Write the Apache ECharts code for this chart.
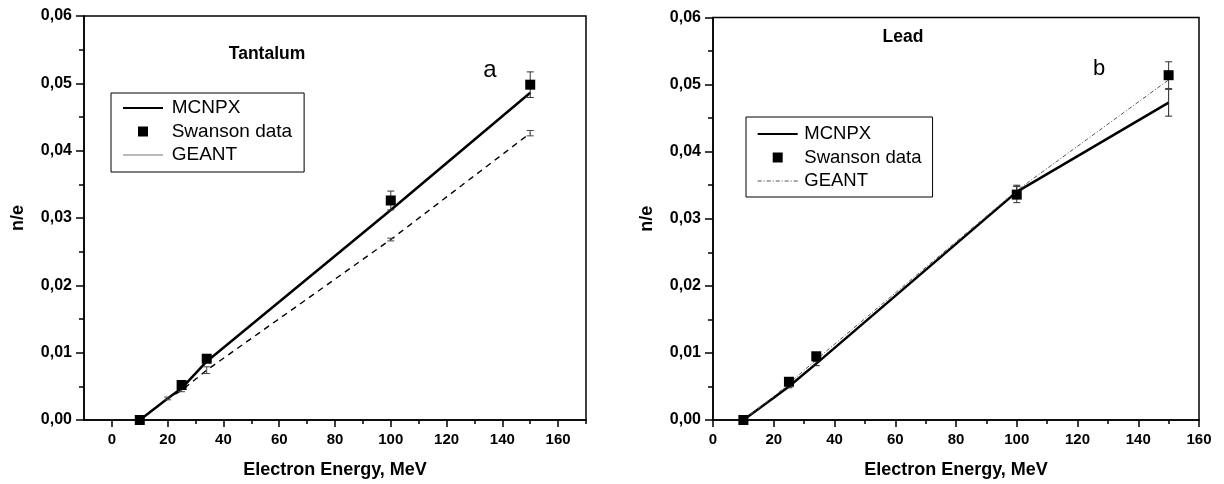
<!DOCTYPE html>
<html>
<head>
<meta charset="utf-8">
<script src="https://cdn.jsdelivr.net/npm/echarts@6.0.0/dist/echarts.min.js"></script>
<style>
html,body{margin:0;padding:0;background:#fff;}
#chart{width:1224px;height:484px;}
</style>
</head>
<body>
<div id="chart"></div>
<script>
// ---------- data ----------
const energySim = [10, 20, 25, 34, 100, 150];
const energyExp = [10, 25, 34, 100, 150];

// Tantalum (panel a)
const taMCNPX = [0.0, 0.0032, 0.0047, 0.0087, 0.0312, 0.0486];
const taGEANT = [0.0, 0.0032, 0.0044, 0.0074, 0.0268, 0.0426];
const taGEANTErr = [0.0, 0.0002, 0.0002, 0.0005, 0.0002, 0.0004];
const taSwanson = [0.0, 0.0052, 0.0091, 0.0326, 0.0498];
const taSwansonErr = [0.0001, 0.0003, 0.0004, 0.0014, 0.0019];

// Lead (panel b)
const pbMCNPX = [0.0, 0.0033, 0.0050, 0.0084, 0.0340, 0.0473];
const pbMCNPXErr = [0.0, 0.0, 0.0002, 0.0003, 0.0010, 0.0020];
const pbGEANT = [0.0, 0.0035, 0.0054, 0.0090, 0.0342, 0.0507];
const pbSwanson = [0.0, 0.0057, 0.0095, 0.0336, 0.0514];
const pbSwansonErr = [0.0001, 0.0003, 0.0003, 0.0012, 0.0020];

// tick labels
const xTicksA = [0, 20, 40, 60, 80, 100, 120, 140, 160];
const xMinorA = [10, 30, 50, 70, 90, 110, 130, 150, 170];
const legendNames = ['MCNPX', 'Swanson data', 'GEANT'];

// ---------- helpers ----------
const FONT = '"Liberation Sans", Arial, sans-serif';
const zip = (xs, ys) => xs.map((x, i) => [x, ys[i]]);
const errData = (xs, ys, es) => xs.map((x, i) => [x, ys[i] - es[i], ys[i] + es[i]]).filter((d, i) => es[i] > 0);
const yFmt = v => v.toFixed(2).replace('.', ',');

function errRender(color) {
  return function (params, api) {
    const x = api.value(0), lo = api.value(1), hi = api.value(2);
    const a = api.coord([x, lo]), b = api.coord([x, hi]);
    const w = 3.5;
    const st = { stroke: color, lineWidth: 1 };
    return {
      type: 'group',
      children: [
        { type: 'line', shape: { x1: a[0], y1: a[1], x2: b[0], y2: b[1] }, style: st },
        { type: 'line', shape: { x1: a[0] - w, y1: a[1], x2: a[0] + w, y2: a[1] }, style: st },
        { type: 'line', shape: { x1: b[0] - w, y1: b[1], x2: b[0] + w, y2: b[1] }, style: st }
      ]
    };
  };
}

const axisLineStyle = { color: '#000', width: 1.5 };
const labelStyle = { color: '#000', fontSize: 15, fontWeight: 'bold', fontFamily: FONT };
const nameStyle = { color: '#000', fontSize: 18, fontWeight: 'bold', fontFamily: FONT };

function yAxisFor(gridIndex) {
  return {
    gridIndex, type: 'value', min: 0, max: 0.06, interval: 0.01,
    axisLine: { show: true, onZero: false, lineStyle: axisLineStyle },
    axisTick: { show: true, inside: false, length: 8, lineStyle: axisLineStyle },
    minorTick: { show: true, splitNumber: 2, length: 5, lineStyle: { color: '#000', width: 1.5 } },
    splitLine: { show: false },
    axisLabel: Object.assign({ formatter: yFmt, margin: 12 }, labelStyle, { fontSize: 16 }),
    name: 'n/e', nameLocation: 'middle', nameGap: 57, nameRotate: 90, nameTextStyle: nameStyle
  };
}

const SQUARE = 'path://M0,0h10v10h-10z';

function legendFor(left, top, padding, textPad, geantLine, fontSize) {
  return {
    orient: 'vertical', left, top, padding,
    backgroundColor: '#fff', borderColor: '#000', borderWidth: 1,
    itemWidth: 40, itemHeight: 10, itemGap: 3.5,
    selectedMode: false,
    textStyle: { color: '#000', fontSize, fontFamily: FONT, lineHeight: 20, padding: [0, 0, 0, textPad] },
    data: [
      { name: legendNames[0], itemStyle: { opacity: 0 } },
      { name: legendNames[1], icon: SQUARE, itemStyle: { color: '#000', opacity: 1 } },
      { name: legendNames[2], itemStyle: { opacity: 0 }, lineStyle: geantLine }
    ]
  };
}

const option = {
  animation: false,
  backgroundColor: '#fff',
  grid: [
    { left: 84, top: 16, width: 502, height: 404, show: true, borderColor: '#000', borderWidth: 1.5, backgroundColor: 'transparent' },
    { left: 713, top: 17.5, width: 486, height: 405, show: true, borderColor: '#000', borderWidth: 1.5, backgroundColor: 'transparent' }
  ],
  xAxis: [
    {
      gridIndex: 0, type: 'value', min: -10, max: 170,
      axisLine: { show: true, onZero: false, lineStyle: axisLineStyle },
      axisTick: { show: true, inside: false, length: 7, customValues: xTicksA, lineStyle: axisLineStyle },
      axisLabel: Object.assign({ margin: 12, customValues: xTicksA }, labelStyle),
      splitLine: { show: false },
      name: 'Electron Energy, MeV', nameLocation: 'middle', nameGap: 41, nameTextStyle: nameStyle
    },
    {
      gridIndex: 0, type: 'value', min: -10, max: 170, position: 'bottom',
      axisLine: { show: false, onZero: false },
      axisTick: { show: true, inside: false, length: 4, customValues: xMinorA, lineStyle: axisLineStyle },
      axisLabel: { show: false },
      splitLine: { show: false }
    },
    {
      gridIndex: 1, type: 'value', min: 0, max: 160, interval: 20,
      axisLine: { show: true, onZero: false, lineStyle: axisLineStyle },
      axisTick: { show: true, inside: false, length: 7, lineStyle: axisLineStyle },
      minorTick: { show: true, splitNumber: 2, length: 4, lineStyle: { color: '#000', width: 1.5 } },
      axisLabel: Object.assign({ margin: 12 }, labelStyle),
      splitLine: { show: false },
      name: 'Electron Energy, MeV', nameLocation: 'middle', nameGap: 41, nameTextStyle: nameStyle
    }
  ],
  yAxis: [yAxisFor(0), yAxisFor(1)],
  legend: [
    legendFor(111, 93, [5, 12, 7, 11], 3.7, { type: 'solid', color: '#777', width: 1 }, 19),
    legendFor(746, 117, [7, 11, 6, 10.7], 1.6, { type: [4, 2, 1, 2], color: '#555', width: 1 }, 18.5)
  ],
  graphic: [
    { type: 'text', style: { x: 267, y: 54, text: 'Tantalum', textAlign: 'center', textVerticalAlign: 'middle', font: 'bold 17.5px ' + FONT, fill: '#000' } },
    { type: 'text', style: { x: 903, y: 37, text: 'Lead', textAlign: 'center', textVerticalAlign: 'middle', font: 'bold 17.5px ' + FONT, fill: '#000' } },
    { type: 'text', style: { x: 490, y: 70, text: 'a', textAlign: 'center', textVerticalAlign: 'middle', font: '24px ' + FONT, fill: '#000' } },
    { type: 'text', style: { x: 1099, y: 69, text: 'b', textAlign: 'center', textVerticalAlign: 'middle', font: '22px ' + FONT, fill: '#000' } }
  ],
  series: [
    // ----- Tantalum -----
    { name: 'MCNPX', type: 'line', xAxisIndex: 0, yAxisIndex: 0, symbol: 'none', data: zip(energySim, taMCNPX),
      lineStyle: { color: '#000', width: 2.5 }, itemStyle: { color: '#000' }, z: 3 },
    { name: 'GEANT', type: 'line', xAxisIndex: 0, yAxisIndex: 0, symbol: 'none', data: zip(energySim, taGEANT),
      lineStyle: { color: '#000', width: 1.4, type: [6, 5] }, itemStyle: { color: '#000' }, z: 2 },
    { type: 'custom', xAxisIndex: 0, yAxisIndex: 0, renderItem: errRender('#444'), encode: { x: 0, y: [1, 2] },
      data: errData(energySim, taGEANT, taGEANTErr), z: 4 },
    { type: 'custom', xAxisIndex: 0, yAxisIndex: 0, renderItem: errRender('#333'), encode: { x: 0, y: [1, 2] },
      data: errData(energyExp, taSwanson, taSwansonErr), z: 4 },
    { name: 'Swanson data', type: 'scatter', xAxisIndex: 0, yAxisIndex: 0, symbol: 'rect', symbolSize: 10,
      data: zip(energyExp, taSwanson), itemStyle: { color: '#000', opacity: 1 }, z: 5 },
    // ----- Lead -----
    { name: 'MCNPX', type: 'line', xAxisIndex: 2, yAxisIndex: 1, symbol: 'none', data: zip(energySim, pbMCNPX),
      lineStyle: { color: '#000', width: 2.5 }, itemStyle: { color: '#000' }, z: 3 },
    { name: 'GEANT', type: 'line', xAxisIndex: 2, yAxisIndex: 1, symbol: 'none', data: zip(energySim, pbGEANT),
      lineStyle: { color: '#555', width: 1, type: [4, 2, 1, 2] }, itemStyle: { color: '#555' }, z: 3 },
    { type: 'custom', xAxisIndex: 2, yAxisIndex: 1, renderItem: errRender('#222'), encode: { x: 0, y: [1, 2] },
      data: errData(energySim, pbMCNPX, pbMCNPXErr), z: 4 },
    { type: 'custom', xAxisIndex: 2, yAxisIndex: 1, renderItem: errRender('#333'), encode: { x: 0, y: [1, 2] },
      data: errData(energyExp, pbSwanson, pbSwansonErr), z: 4 },
    { name: 'Swanson data', type: 'scatter', xAxisIndex: 2, yAxisIndex: 1, symbol: 'rect', symbolSize: 10,
      data: zip(energyExp, pbSwanson), itemStyle: { color: '#000', opacity: 1 }, z: 5 }
  ]
};

const chart = echarts.init(document.getElementById('chart'), null, { renderer: 'canvas' });
chart.setOption(option);
</script>
</body>
</html>
